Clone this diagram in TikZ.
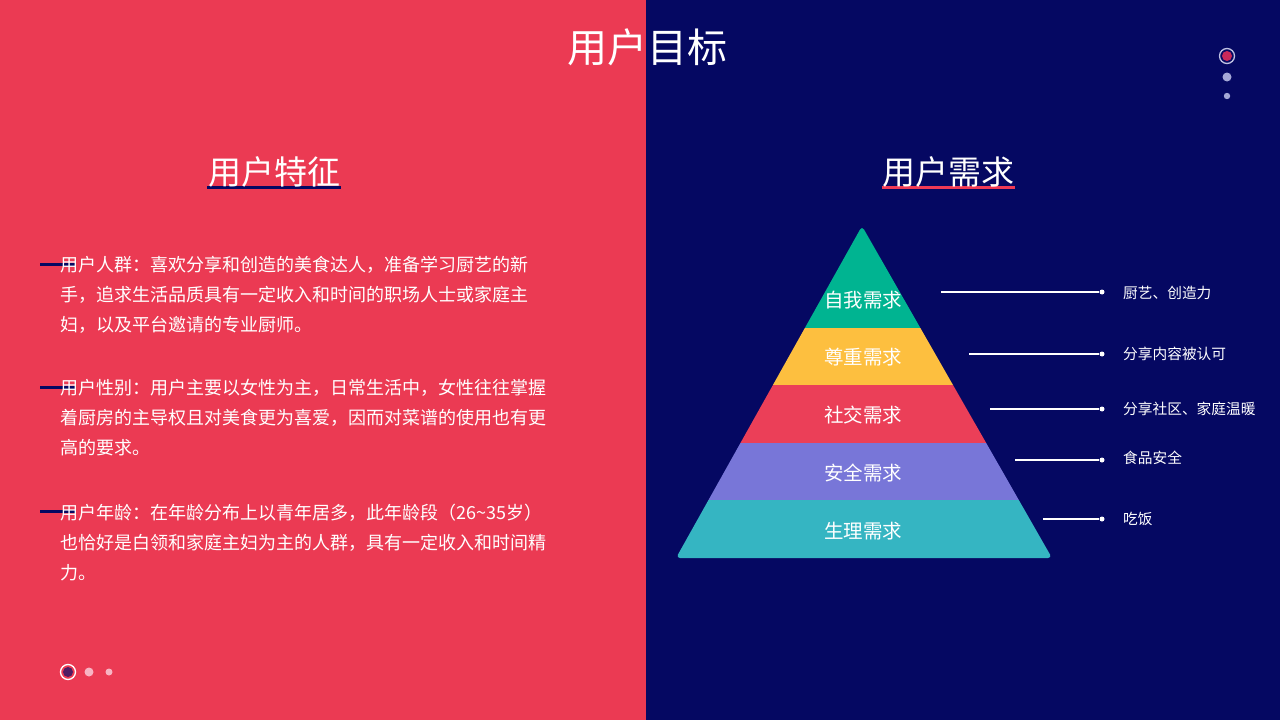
\documentclass[tikz,border=0pt]{standalone}
\usepackage{fontspec}
\setmainfont{Noto Sans CJK SC}
\definecolor{bgred}{RGB}{235,58,83}
\definecolor{bgnavy}{RGB}{5,8,98}
\definecolor{pgreen}{RGB}{0,180,145}
\definecolor{pyellow}{RGB}{253,191,63}
\definecolor{pred}{RGB}{235,63,88}
\definecolor{ppurple}{RGB}{120,118,216}
\definecolor{pteal}{RGB}{53,181,194}
\definecolor{ulred}{RGB}{240,58,85}
\definecolor{dotpink}{RGB}{248,180,195}
\definecolor{dotpurple}{RGB}{80,28,100}
\definecolor{dotlav}{RGB}{165,168,215}
\definecolor{dotred}{RGB}{200,40,90}
\tikzset{
  cjk/.style={inner sep=0pt, text=white},
  body/.style={cjk, anchor=west, font=\fontsize{18}{20}\selectfont, text height=15.84pt, text depth=2.16pt},
  head/.style={cjk, font=\fontsize{33}{36}\selectfont, text height=29.04pt, text depth=3.96pt},
  ttl/.style={cjk, font=\fontsize{40}{44}\selectfont, text height=35.2pt, text depth=4.8pt},
  layerlab/.style={cjk, font=\fontsize{19.5}{22}\selectfont, text height=17.16pt, text depth=2.34pt},
  rlab/.style={cjk, anchor=west, font=\fontsize{14.7}{17}\selectfont, text height=12.94pt, text depth=1.76pt},
  dotn/.style={circle, fill=white, inner sep=0pt, minimum size=5pt},
  conn/.style={white, line width=1.5pt},
  marker/.style={bgnavy, line width=3pt}
}
\begin{document}
\begin{tikzpicture}[x=1pt,y=-1pt]
\fill[bgred] (0,0) rectangle (646,720);
\fill[bgnavy] (646,0) rectangle (1280,720);
\useasboundingbox (0,0) rectangle (1280,720);

% title
\node[ttl] (title) at (647,47) {用户目标};

% left heading
\draw[bgnavy, line width=3pt] (207,187) -- (341,187);
\node[head] (hl) at (274,172) {用户特征};
% right heading
\draw[ulred, line width=3pt] (882,187) -- (1015,187);
\node[head] (hr) at (948,172) {用户需求};

% markers
\draw[marker] (40,264) -- (75,264);
\draw[marker] (40,387) -- (75,387);
\draw[marker] (40,511) -- (75,511);

% paragraphs
\node[body] (p1a) at (60,265) {用户人群：喜欢分享和创造的美食达人，准备学习厨艺的新};
\node[body] (p1b) at (60,295) {手，追求生活品质具有一定收入和时间的职场人士或家庭主};
\node[body] (p1c) at (60,325) {妇，以及平台邀请的专业厨师。};
\node[body] (p2a) at (60,388) {用户性别：用户主要以女性为主，日常生活中，女性往往掌握};
\node[body] (p2b) at (60,418) {着厨房的主导权且对美食更为喜爱，因而对菜谱的使用也有更};
\node[body] (p2c) at (60,448) {高的要求。};
\node[body] (p3a) at (60,513) {用户年龄：在年龄分布上以青年居多，此年龄段（26\textasciitilde35岁）};
\node[body] (p3b) at (60,543) {也恰好是白领和家庭主妇为主的人群，具有一定收入和时间精};
\node[body] (p3c) at (60,573) {力。};

% pager dots bottom-left
\fill[dotpurple] (68,672) circle (5);
\draw[white, line width=1.3pt] (68,672) circle (7.5);
\fill[dotpink] (89,672) circle (4.5);
\fill[dotpink] (109,672) circle (3.5);

% pager dots top-right
\fill[dotred] (1227,56) circle (5);
\draw[dotlav!70!white, line width=1.3pt] (1227,56) circle (7.5);
\fill[dotlav] (1227,77) circle (4.5);
\fill[dotlav] (1227,96) circle (3.2);

% pyramid
\begin{scope}
\clip[rounded corners=4pt] (862,226) -- (1052,558) -- (676,558) -- cycle;
\fill[pgreen] (670,220) rectangle (1060,328);
\fill[pyellow] (670,328) rectangle (1060,385);
\fill[pred] (670,385) rectangle (1060,443);
\fill[ppurple] (670,443) rectangle (1060,500);
\fill[pteal] (670,500) rectangle (1060,560);
\end{scope}
\node[layerlab] (l1) at (863,300) {自我需求};
\node[layerlab] (l2) at (863,357) {尊重需求};
\node[layerlab] (l3) at (863,415) {社交需求};
\node[layerlab] (l4) at (863,473) {安全需求};
\node[layerlab] (l5) at (863,531) {生理需求};

% connectors
\coordinate (s1) at (941,292);
\coordinate (s2) at (969,354);
\coordinate (s3) at (990,409);
\coordinate (s4) at (1015,460);
\coordinate (s5) at (1043,519);
\node[dotn] (d1) at (1102,292) {};
\node[dotn] (d2) at (1102,354) {};
\node[dotn] (d3) at (1102,409) {};
\node[dotn] (d4) at (1102,460) {};
\node[dotn] (d5) at (1102,519) {};
\draw[conn] (s1) -- (d1);
\draw[conn] (s2) -- (d2);
\draw[conn] (s3) -- (d3);
\draw[conn] (s4) -- (d4);
\draw[conn] (s5) -- (d5);

\node[rlab] (r1) at (1123,293) {厨艺、创造力};
\node[rlab] (r2) at (1123,354) {分享内容被认可};
\node[rlab] (r3) at (1123,409) {分享社区、家庭温暖};
\node[rlab] (r4) at (1123,458) {食品安全};
\node[rlab] (r5) at (1123,519) {吃饭};
\end{tikzpicture}
\end{document}
